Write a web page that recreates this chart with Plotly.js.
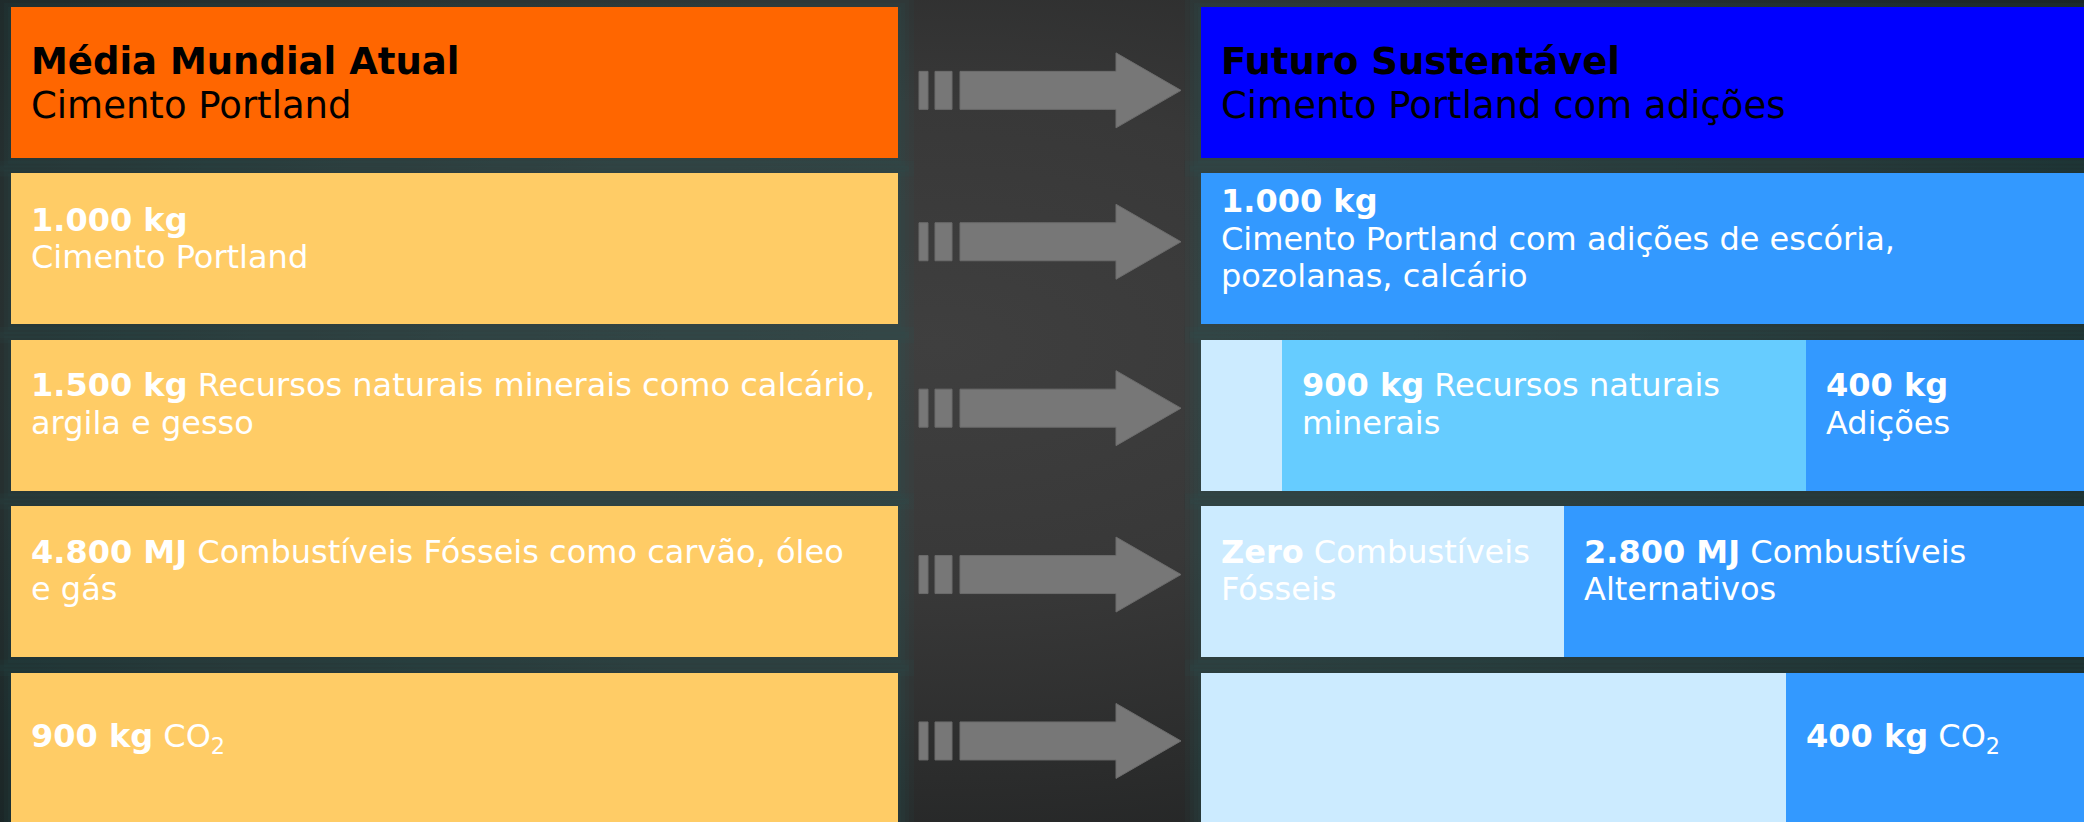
<!DOCTYPE html>
<html>
<head>
<meta charset="utf-8">
<script src="https://cdn.plot.ly/plotly-3.0.1.min.js"></script>
<style>
html, body { margin:0; padding:0; width:2084px; height:822px; overflow:hidden;
  background: radial-gradient(ellipse 65% 85% at 45% 42%, #3f3f3f 0%, #383838 35%, #2b2c2c 62%, #171a1b 100%); }
#chart { width:2084px; height:822px; }
</style>
</head>
<body>
<div id="chart"></div>
<script>
// ---- data ----
const rows = [0, 1, 2, 3, 4];
const leftWidth = [1, 1, 1, 1, 1];
const leftColors = ['#FF6600', '#FFCC66', '#FFCC66', '#FFCC66', '#FFCC66'];
const leftLines = [
  ['<b>Média Mundial Atual</b>', 'Cimento Portland'],
  ['<b>1.000 kg</b>', 'Cimento Portland'],
  ['<b>1.500 kg</b> Recursos naturais minerais como calcário,', 'argila e gesso'],
  ['<b>4.800 MJ</b> Combustíveis Fósseis como carvão, óleo', 'e gás'],
  ['<b>900 kg</b> CO<sub>2</sub>']
];
// right side: segment shares (% of bar length)
const seg1Share = [100, 100, 9.2, 41.1, 66.3];
const seg2Share = [0, 0, 59.3, 58.9, 33.7];
const seg3Share = [0, 0, 31.5, 0, 0];
const seg1Colors = ['#0000FF', '#3399FF', '#CCEBFF', '#CCEBFF', '#CCEBFF'];
const seg2Colors = ['#0000FF', '#3399FF', '#66CCFF', '#3399FF', '#3399FF'];
const seg3Colors = ['#0000FF', '#3399FF', '#3399FF', '#3399FF', '#3399FF'];
const seg1Lines = [
  ['<b>Futuro Sustentável</b>', 'Cimento Portland com adições'],
  ['<b>1.000 kg</b>', 'Cimento Portland com adições de escória,', 'pozolanas, calcário'],
  [],
  ['<b>Zero</b> Combustíveis', 'Fósseis'],
  []
];
const seg2Lines = [
  [], [],
  ['<b>900 kg</b> Recursos naturais', 'minerais'],
  ['<b>2.800 MJ</b> Combustíveis', 'Alternativos'],
  ['<b>400 kg</b> CO<sub>2</sub>']
];
const seg3Lines = [[], [], ['<b>400 kg</b>', 'Adições'], [], []];
const textColors = ['#000000', '#FFFFFF', '#FFFFFF', '#FFFFFF', '#FFFFFF'];

// ---- styling ----
const FONT = 'DejaVu Sans, Verdana, sans-serif';
const fontSizes = [37, 32, 32, 32, 32];
const lineHeights = [44.5, 37.5, 37.5, 37.5, 37.5];
const blockOffset = [14, 1, 0, 0, 1];       // px, mean baseline vs row centre
const arrowShiftPx = [8, -7, -7, -7, -7];   // px, arrow centre vs row centre
const W = 2084, H = 822;
const leftDomain = [11 / W, 898 / W];
const rightDomain = [1200.8 / W, 1];
const barWidth = 0.906;
const yRange = [4.445, -0.495];
const pxPerRow = H / (yRange[0] - yRange[1]);

const traces = [
  { type:'bar', orientation:'h', y: rows, x: leftWidth, xaxis:'x', yaxis:'y',
    width: barWidth, marker:{ color: leftColors, line:{width:0} }, hoverinfo:'skip' },
  { type:'bar', orientation:'h', y: rows, x: seg1Share, xaxis:'x2', yaxis:'y',
    width: barWidth, marker:{ color: seg1Colors, line:{width:0} }, hoverinfo:'skip' },
  { type:'bar', orientation:'h', y: rows, x: seg2Share, xaxis:'x2', yaxis:'y',
    width: barWidth, marker:{ color: seg2Colors, line:{width:0} }, hoverinfo:'skip' },
  { type:'bar', orientation:'h', y: rows, x: seg3Share, xaxis:'x2', yaxis:'y',
    width: barWidth, marker:{ color: seg3Colors, line:{width:0} }, hoverinfo:'skip' }
];

const annotations = [];
function addLines(lines, xref, x, r) {
  const n = lines.length, s = fontSizes[r], lh = lineHeights[r];
  lines.forEach((t, i) => {
    const base = blockOffset[r] + (i - (n - 1) / 2) * lh;
    const center = base - 0.346 * s;
    annotations.push({
      xref: xref, yref: 'y', x: x, y: r, xanchor: 'left', yanchor: 'middle',
      xshift: 19, yshift: -center, text: t, showarrow: false, borderpad: 0,
      font: { family: FONT, size: s, color: textColors[r] }
    });
  });
}
rows.forEach(r => {
  addLines(leftLines[r], 'x', 0, r);
  addLines(seg1Lines[r], 'x2', 0, r);
  addLines(seg2Lines[r], 'x2', seg1Share[r], r);
  addLines(seg3Lines[r], 'x2', seg1Share[r] + seg2Share[r], r);
});

const shapes = [];
// soft teal glow behind every box
const halfBar = barWidth * pxPerRow / 2;
rows.forEach(r => {
  [leftDomain, rightDomain].forEach(dom => {
    [16, 11, 7, 3].forEach(k => {
      shapes.push({
        type: 'rect', xref: 'paper', yref: 'y', ysizemode: 'pixel', yanchor: r,
        x0: dom[0] - k / W, x1: dom[1] + k / W, y0: -halfBar - k - 3, y1: halfBar + k - 3,
        fillcolor: 'rgba(40,85,90,0.10)', line: { width: 0 }, layer: 'below'
      });
    });
  });
});

// arrows between the two columns (pixel geometry anchored at left box edge)
function arrowPath(dy) {
  const y = v => (v + dy);
  const rect = (a, b, h) => `M${a},${y(-h)} L${b},${y(-h)} L${b},${y(h)} L${a},${y(h)} Z`;
  return rect(21, 30, 19) + ' ' + rect(37, 54, 19) + ' ' +
    `M62,${y(-19)} L218,${y(-19)} L218,${y(-37.5)} L283,${y(0)} L218,${y(37.5)} L218,${y(19)} L62,${y(19)} Z`;
}
rows.forEach(r => {
  shapes.push({
    type: 'path', xref: 'paper', yref: 'y', xsizemode: 'pixel', ysizemode: 'pixel',
    xanchor: leftDomain[1], yanchor: r, path: arrowPath(-arrowShiftPx[r]),
    fillcolor: '#777777', line: { color: '#6c6c6c', width: 1 }, layer: 'above'
  });
});

const layout = {
  width: W, height: H, margin: { l:0, r:0, t:0, b:0, pad:0 },
  paper_bgcolor: 'rgba(0,0,0,0)', plot_bgcolor: 'rgba(0,0,0,0)',
  barmode: 'stack', showlegend: false,
  xaxis: { domain: leftDomain, range: [0, 1], visible: false, fixedrange: true },
  xaxis2: { domain: rightDomain, range: [0, 100], visible: false, fixedrange: true, anchor: 'y' },
  yaxis: { domain: [0, 1], range: yRange, visible: false, fixedrange: true },
  annotations: annotations, shapes: shapes
};

Plotly.newPlot('chart', traces, layout, { displayModeBar: false, staticPlot: true });
</script>
</body>
</html>
